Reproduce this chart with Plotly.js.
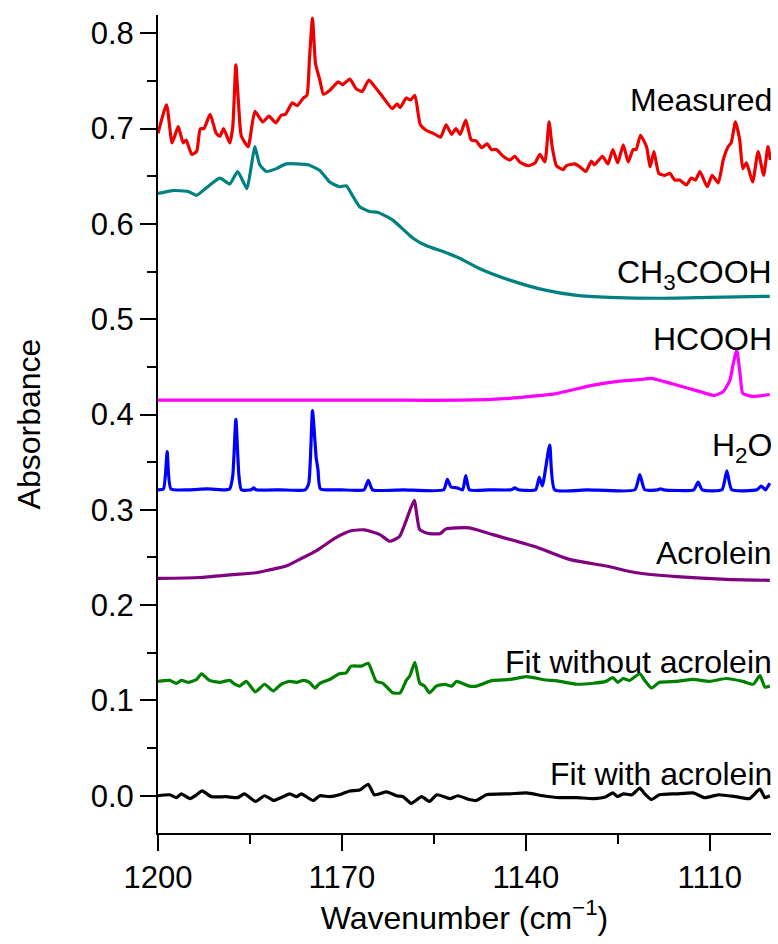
<!DOCTYPE html>
<html>
<head>
<meta charset="utf-8">
<script src="https://cdn.plot.ly/plotly-3.0.1.min.js"></script>
<style>html,body{margin:0;padding:0;background:#fff;}#chart{width:778px;height:944px;}</style>
</head>
<body>
<div id="chart"></div>
<script>
// Wavenumber (cm-1) / absorbance pairs
const measuredX = [1200,1198.6,1197.7,1196.7,1195.9,1195.4,1194.5,1193.7,1193.1,1192.5,1191.5,1190.5,1189.9,1189.3,1188.3,1187.8,1187.3,1186.9,1186.4,1185.3,1184.2,1182.9,1181.9,1180.8,1179.9,1179.2,1178.1,1177.3,1176.3,1175.7,1175.3,1174.8,1174.3,1173.6,1173.0,1172.0,1170.6,1169.9,1168.7,1167.7,1166.7,1165.6,1164.4,1163.3,1161.8,1161.0,1160.5,1159.5,1158.8,1158.1,1157.2,1156.2,1155.1,1153.9,1153.0,1152.1,1151.4,1150.7,1149.8,1148.9,1148.1,1147.2,1146.3,1145.6,1144.8,1143.7,1142.6,1141.8,1141.0,1139.6,1138.5,1137.7,1136.9,1136.2,1135.7,1135.0,1133.9,1133.4,1132.0,1131.2,1130.2,1129.3,1128.8,1127.5,1126.6,1125.8,1125.0,1124.1,1123.3,1122.5,1122.0,1121.3,1120.3,1119.7,1119.1,1118.3,1117.3,1116.5,1115.7,1114.9,1113.8,1113.0,1112.3,1111.6,1110.4,1109.6,1108.6,1107.8,1107.0,1106.5,1105.8,1105.1,1104.6,1104.0,1103.0,1102.1,1101.2,1100.5,1100.1];
const measuredY = [0.695,0.725,0.685,0.702,0.685,0.688,0.673,0.676,0.700,0.700,0.715,0.695,0.692,0.700,0.685,0.702,0.767,0.730,0.692,0.681,0.718,0.707,0.713,0.706,0.714,0.715,0.727,0.724,0.732,0.735,0.772,0.816,0.768,0.751,0.736,0.740,0.749,0.746,0.752,0.742,0.739,0.751,0.742,0.733,0.721,0.726,0.722,0.732,0.730,0.735,0.704,0.698,0.695,0.691,0.704,0.694,0.700,0.694,0.709,0.688,0.687,0.680,0.684,0.678,0.678,0.671,0.667,0.671,0.665,0.661,0.664,0.673,0.665,0.707,0.681,0.661,0.657,0.661,0.663,0.660,0.655,0.666,0.662,0.671,0.663,0.678,0.664,0.683,0.665,0.678,0.678,0.693,0.681,0.660,0.676,0.653,0.651,0.653,0.646,0.646,0.641,0.648,0.646,0.655,0.639,0.651,0.643,0.667,0.681,0.685,0.707,0.688,0.658,0.664,0.644,0.676,0.651,0.681,0.667];

const aceticX = [1200,1197.6,1195.1,1193.7,1192.1,1189.9,1188.3,1187.0,1185.5,1184.8,1184.2,1183.4,1182.3,1180.7,1179.1,1177.4,1175.5,1173.6,1172.0,1170.4,1169.3,1168.3,1167.1,1165.5,1164.1,1161.7,1158.4,1156.2,1153.5,1150.8,1147.5,1142.6,1137.2,1131.7,1126.3,1118.2,1110.0,1100.2];
const aceticY = [0.632,0.635,0.634,0.630,0.638,0.648,0.642,0.655,0.637,0.660,0.681,0.662,0.655,0.658,0.663,0.663,0.662,0.656,0.644,0.639,0.640,0.630,0.618,0.613,0.612,0.604,0.585,0.577,0.571,0.564,0.553,0.541,0.531,0.525,0.523,0.522,0.523,0.524];

const formicX = [1200,1180,1160,1150.8,1142.6,1135.0,1129.6,1124.7,1120.9,1119.5,1116.0,1111.6,1109.2,1107.8,1106.7,1106.2,1105.6,1105.0,1104.6,1102.9,1100.2];
const formicY = [0.415,0.415,0.415,0.415,0.417,0.422,0.430,0.435,0.437,0.438,0.432,0.424,0.420,0.424,0.436,0.452,0.468,0.440,0.422,0.419,0.421];

const waterX = [1200,1199.1,1198.5,1197.9,1195,1192,1189,1188.3,1187.8,1187.3,1186.8,1186.4,1184.8,1184.4,1184.0,1180,1176,1175.4,1174.8,1174.2,1173.9,1173.5,1170,1166.4,1165.7,1165.0,1160,1153.4,1152.8,1152.2,1151.2,1150.3,1149.8,1149.2,1146,1142.4,1141.8,1141.2,1138.4,1137.8,1137.3,1136.1,1135.3,1130,1122.2,1121.4,1120.6,1118.5,1118.0,1117.5,1112.6,1111.9,1111.2,1108.0,1107.2,1106.4,1102.3,1101.6,1100.9,1100.2];
const waterY = [0.321,0.322,0.361,0.322,0.321,0.322,0.321,0.322,0.336,0.395,0.336,0.321,0.321,0.323,0.321,0.321,0.321,0.328,0.404,0.355,0.342,0.322,0.321,0.321,0.331,0.321,0.321,0.321,0.332,0.324,0.323,0.321,0.336,0.321,0.321,0.321,0.323,0.321,0.321,0.334,0.325,0.368,0.321,0.321,0.321,0.337,0.321,0.321,0.322,0.321,0.321,0.329,0.321,0.321,0.341,0.321,0.321,0.325,0.321,0.328];

const acroleinX = [1200,1193.2,1187.8,1184.0,1181.8,1179.1,1176.9,1174.2,1170.9,1168.5,1166.3,1163.8,1162.2,1160.6,1159.5,1158.2,1157.3,1155.7,1154.0,1153.0,1151.3,1149.2,1145.4,1138.3,1132.9,1126.9,1122.0,1115.4,1107.3,1100.2];
const acroleinY = [0.228,0.229,0.232,0.234,0.237,0.241,0.248,0.257,0.271,0.278,0.279,0.274,0.267,0.272,0.289,0.310,0.279,0.275,0.275,0.280,0.281,0.281,0.274,0.261,0.248,0.241,0.234,0.230,0.227,0.226];

const fitNoAcrX = [1200,1198.1,1197.0,1196.2,1195.1,1193.7,1192.9,1191.6,1189.9,1188.3,1187.5,1186.7,1185.6,1184.1,1182.6,1181.2,1179.9,1178.5,1177.4,1176.3,1175.3,1174.4,1173.6,1172.0,1170.4,1169.3,1168.5,1166.8,1165.7,1164.4,1163.3,1161.7,1160.5,1159.5,1158.9,1158.1,1157.3,1156.5,1155.7,1154.6,1153.2,1152.1,1151.3,1149.2,1148.1,1145.4,1142.6,1139.9,1137.2,1134.5,1131.7,1129.0,1126.9,1125.8,1125.0,1124.1,1123.1,1121.4,1120.6,1119.5,1118.2,1115.4,1112.7,1110.0,1107.3,1104.6,1102.9,1101.8,1101.0,1100.2];
const fitNoAcrY = [0.120,0.121,0.118,0.121,0.119,0.122,0.128,0.121,0.119,0.121,0.117,0.115,0.120,0.109,0.117,0.110,0.117,0.120,0.119,0.121,0.119,0.113,0.118,0.122,0.128,0.129,0.136,0.136,0.139,0.120,0.118,0.108,0.108,0.121,0.126,0.140,0.118,0.115,0.108,0.115,0.117,0.115,0.120,0.115,0.115,0.121,0.122,0.125,0.122,0.120,0.117,0.118,0.120,0.124,0.119,0.123,0.121,0.128,0.121,0.113,0.119,0.120,0.122,0.120,0.123,0.120,0.117,0.126,0.114,0.115];

const fitAcrX = [1200,1198.1,1197.0,1196.2,1194.8,1193.7,1192.8,1191.3,1188.9,1187.0,1185.9,1184.1,1182.6,1181.1,1179.6,1178.5,1177.4,1176.6,1174.7,1173.6,1172.0,1170.4,1168.7,1167.1,1165.7,1164.7,1162.7,1161.1,1160.0,1158.7,1157.0,1155.7,1154.5,1152.4,1151.1,1149.2,1148.1,1146.4,1142.6,1139.9,1137.2,1134.5,1131.7,1129.0,1126.9,1125.8,1125.0,1124.1,1122.7,1121.4,1120.6,1119.5,1118.2,1115.4,1112.7,1110.8,1108.6,1105.7,1103.5,1101.8,1101.0,1100.2];
const fitAcrY = [0.000,0.001,-0.002,0.002,-0.003,0.001,0.005,-0.001,-0.001,-0.002,0.002,-0.006,0.000,-0.005,-0.001,0.002,-0.001,0.002,-0.005,0.000,-0.001,0.001,0.005,0.006,0.012,0.001,0.004,0.000,-0.001,-0.008,-0.001,-0.006,0.001,-0.003,0.000,-0.004,-0.005,0.001,0.002,0.003,0.000,-0.002,-0.002,-0.003,-0.001,0.003,-0.001,0.002,0.001,0.008,0.002,-0.004,0.001,0.002,0.003,-0.002,0.001,-0.001,-0.003,0.007,-0.002,0.000];

const seriesNames = ['Measured','CH<sub>3</sub>COOH','HCOOH','H<sub>2</sub>O','Acrolein','Fit without acrolein','Fit with acrolein'];
const labelY = [0.730,0.547,0.479,0.365,0.255,0.140,0.023];
const xTicks = [1200,1170,1140,1110];
const yTicks = [0,0.1,0.2,0.3,0.4,0.5,0.6,0.7,0.8];

const colors = ['#ee0000','#008080','#ff00ff','#0000ff','#800080','#008000','#000000'];
const xs = [measuredX,aceticX,formicX,waterX,acroleinX,fitNoAcrX,fitAcrX];
const ys = [measuredY,aceticY,formicY,waterY,acroleinY,fitNoAcrY,fitAcrY];

const FONT = 'Arial, "Liberation Sans", sans-serif';
const traces = xs.map((x,i)=>({
  x:x, y:ys[i], type:'scatter', mode:'lines', name:seriesNames[i],
  line:{color:colors[i], width:3.2, shape:'spline', smoothing:0.5}, hoverinfo:'skip'
}));

const annotations = seriesNames.map((t,i)=>({
  text:t, xref:'paper', yref:'y', x:1.005, y:labelY[i],
  xanchor:'right', yanchor:'middle', showarrow:false,
  font:{family:FONT, size:32, color:'#000'}
}));

const layout = {
  width:778, height:944,
  margin:{l:158, r:7, t:15, b:111},
  paper_bgcolor:'#fff', plot_bgcolor:'#fff',
  showlegend:false,
  font:{family:FONT, size:31, color:'#000'},
  xaxis:{
    range:[1200,1100], autorange:false,
    tickvals:xTicks, ticktext:xTicks.map(String),
    ticks:'outside', ticklen:16, tickwidth:2, tickcolor:'#000',
    minor:{tickvals:[1185,1155,1125], ticks:'outside', ticklen:9, tickwidth:2, tickcolor:'#000'},
    showline:true, linewidth:2, linecolor:'#000', mirror:false,
    showgrid:false, zeroline:false,
    tickfont:{family:FONT, size:31},
    title:{text:'Wavenumber (cm<sup>\u22121</sup>)', font:{family:FONT, size:32}, standoff:10}
  },
  yaxis:{
    range:[-0.0391,0.8192], autorange:false,
    tickvals:yTicks, ticktext:yTicks.map(v=>v.toFixed(1)),
    ticks:'outside', ticklen:16, tickwidth:2, tickcolor:'#000',
    minor:{tickvals:[0.05,0.15,0.25,0.35,0.45,0.55,0.65,0.75], ticks:'outside', ticklen:9, tickwidth:2, tickcolor:'#000'},
    showline:true, linewidth:2, linecolor:'#000', mirror:false,
    showgrid:false, zeroline:false,
    tickfont:{family:FONT, size:31},
    title:{text:'Absorbance', font:{family:FONT, size:32}, standoff:40}
  },
  annotations:annotations
};

Plotly.newPlot('chart', traces, layout, {displayModeBar:false, staticPlot:true});
</script>
</body>
</html>
